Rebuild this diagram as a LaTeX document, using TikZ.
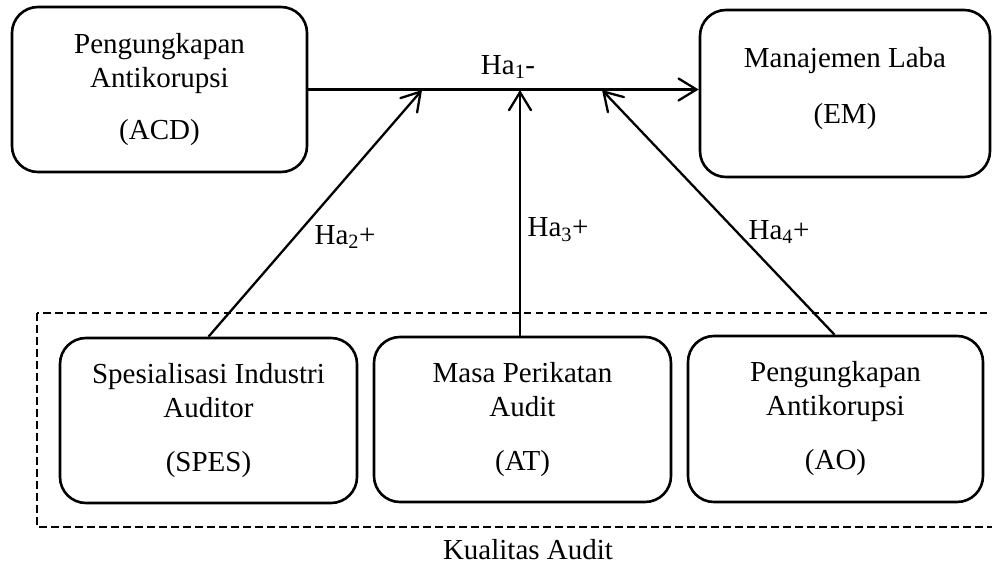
\documentclass[tikz,border=0pt]{standalone}
\usepackage{fontspec}
\setmainfont{Liberation Serif}
\usetikzlibrary{arrows.meta}
\begin{document}
\begin{tikzpicture}[x=1pt,y=-1pt,
  box/.style={draw, line width=2.6pt, rounded corners=26pt, align=center,
    inner sep=0pt, font=\fontsize{29}{34}\selectfont},
  conn/.style={line width=2.3pt, -{Straight Barb[length=18pt,width=22pt,line cap=round]}},
  lab/.style={font=\fontsize{29}{34}\selectfont, inner sep=0pt},
  grpbox/.style={draw, line width=1.6pt, dash pattern=on 7.5pt off 4.5pt}]
\useasboundingbox (0,0) rectangle (992,569);

% top boxes
\node[box, minimum width=295pt, minimum height=165pt] (ACD) at (159.5,89.5)
  {Pengungkapan\\Antikorupsi\\[18pt](ACD)};
\node[box, minimum width=290pt, minimum height=167pt, text depth=17pt] (EM) at (845,93.5)
  {Manajemen Laba\\[22pt](EM)};

% group
\draw[grpbox] (37,313) rectangle (1000,527);
\node[lab] (KA) at (528,550) {Kualitas Audit};

% bottom boxes
\node[box, minimum width=297pt, minimum height=165pt] (SPES) at (208.5,420.5)
  {Spesialisasi Industri\\Auditor\\[20pt](SPES)};
\node[box, minimum width=297pt, minimum height=165pt] (AT) at (522.5,419.5)
  {Masa Perikatan\\Audit\\[20pt](AT)};
\node[box, minimum width=295pt, minimum height=166pt] (AO) at (835.5,419)
  {Pengungkapan\\Antikorupsi\\[20pt](AO)};

% targets on the main line
\coordinate (t2) at (422,90);
\coordinate (t3) at (520,90);
\coordinate (t4) at (602,90);

% connectors
\draw[conn] (ACD.east) -- (ACD.east -| EM.west);
\draw[conn] (SPES.north) -- (t2);
\draw[conn] ([xshift=-2.5pt]AT.north) -- (t3);
\draw[conn] ([xshift=-1pt]AO.north) -- (t4);

% labels
\node[lab] (h1) at (508,67) {Ha\textsubscript{1}-};
\node[lab] (h2) at (345,237) {Ha\textsubscript{2}+};
\node[lab] (h3) at (558,230) {Ha\textsubscript{3}+};
\node[lab] (h4) at (779,232) {Ha\textsubscript{4}+};
\end{tikzpicture}
\end{document}
